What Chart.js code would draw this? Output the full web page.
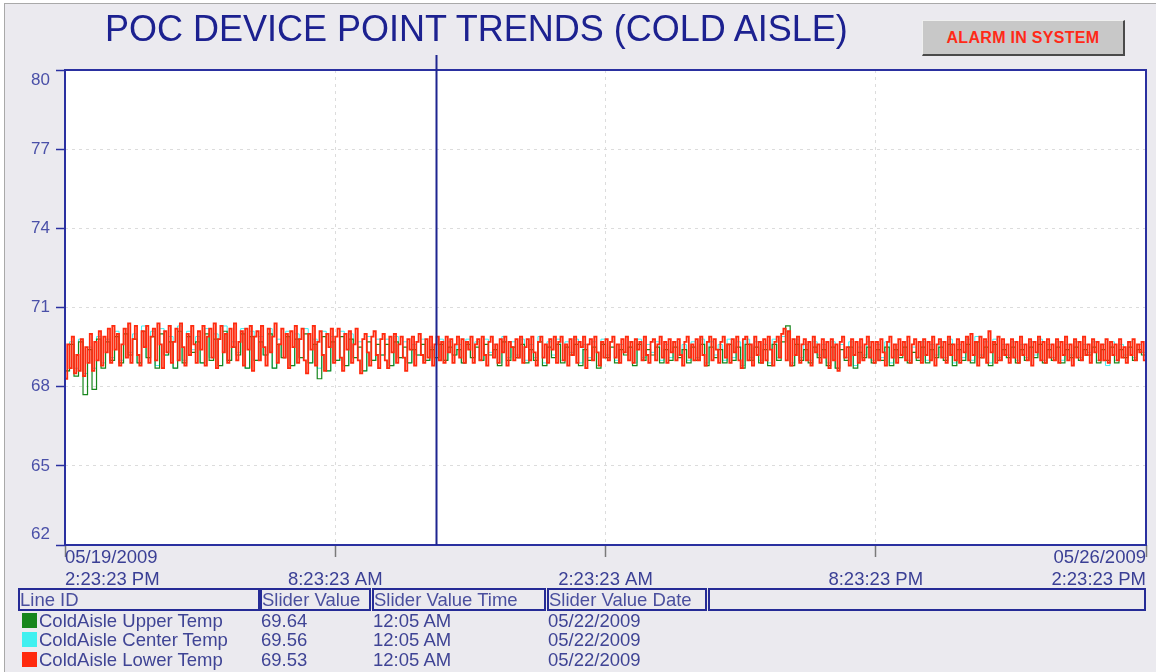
<!DOCTYPE html>
<html>
<head>
<meta charset="utf-8">
<script src="https://cdn.jsdelivr.net/npm/chart.js@4/dist/chart.umd.min.js"></script>
<style>
  html, body { margin: 0; padding: 0; background: #ffffff; }
  body { width: 1156px; height: 672px; position: relative; overflow: hidden; font-family: "Liberation Sans", Arial, sans-serif; }
  #frame { position: absolute; left: 4px; top: 3px; width: 1160px; height: 680px; background: #ebeaef; border: 1px solid #a9a9a9; box-sizing: border-box; }
  #chartbox { position: absolute; left: 0; top: 0; width: 1156px; height: 672px; }
  #title { position: absolute; left: 105px; top: 11px; font-size: 36px; line-height: 36px; color: #1c2190; white-space: nowrap; }
  #alarm { position: absolute; left: 922px; top: 20px; width: 203px; height: 36px; box-sizing: border-box; background: #c8c8c8;
           border-top: 1px solid #efefef; border-left: 1px solid #efefef; border-right: 2px solid #4a4a4a; border-bottom: 2px solid #4a4a4a;
           color: #ff2a18; font-weight: bold; font-size: 16px; line-height: 33px; text-align: center; letter-spacing: 0.3px; }
  .cell { position: absolute; top: 588px; height: 23px; box-sizing: border-box; border: 2px solid #252b96; font-size: 18.5px; line-height: 19px; color: #4a4f9e; padding-left: 0px; white-space: nowrap; overflow: hidden; }
  .txt { position: absolute; font-size: 18.5px; line-height: 19px; color: #3f4495; white-space: nowrap; }
  .sw { position: absolute; width: 15px; height: 15px; }
</style>
</head>
<body>
<div id="frame"></div>
<div id="chartbox"><canvas id="c" width="1156" height="672"></canvas></div>
<div id="title">POC DEVICE POINT TRENDS (COLD AISLE)</div>
<div id="alarm">ALARM IN SYSTEM</div>
<div id="table"></div>
<script>
// ---- Data ----
const seriesNames = ["ColdAisle Upper Temp", "ColdAisle Center Temp", "ColdAisle Lower Temp"];
const seriesColors = ["#17861c", "#3ff0f0", "#ff2a0e"];
const sliderValues = ["69.64", "69.56", "69.53"];
const sliderTimes = ["12:05 AM", "12:05 AM", "12:05 AM"];
const sliderDates = ["05/22/2009", "05/22/2009", "05/22/2009"];
const tableHeaders = ["Line ID", "Slider Value", "Slider Value Time", "Slider Value Date", ""];

const yTicks = [62, 65, 68, 71, 74, 77, 80];
const xTickHours = [0, 42, 84, 126, 168];
const xTickLabels = [["05/19/2009", "2:23:23 PM"], ["", "8:23:23 AM"], ["", "2:23:23 AM"], ["", "8:23:23 PM"], ["05/26/2009", "2:23:23 PM"]];
const sliderHour = 57.7;          // 05/22/2009 12:05 AM, hours after 05/19/2009 2:23:23 PM
const upperStepHours = 0.7;       // spacing of the read samples (upper / center)
const lowerStepHours = 0.35;      // spacing of the read samples (lower)

const upperTemp = [
 68.6,69.6,68.4,69.7,67.7,69.4,67.9,69.8,68.7,69.7,
 69.0,69.9,68.9,70.0,69.2,69.8,68.9,70.1,69.1,69.9,
 68.7,70.0,69.2,69.7,68.7,70.1,68.9,69.9,69.3,69.7,
 68.9,70.0,69.0,69.8,68.8,70.1,69.0,69.5,69.2,70.0,
 68.7,69.9,69.0,69.7,69.2,70.0,68.7,69.6,69.1,69.9,
 68.8,69.8,69.1,70.0,68.9,69.6,68.3,69.9,68.6,69.7,
 69.0,69.9,68.8,69.8,69.1,69.5,68.6,69.7,69.0,69.6,
 69.2,69.6,68.8,69.7,69.1,69.5,68.9,69.4,69.2,69.6,
 69.0,69.4,69.1,69.6,69.0,69.5,69.2,69.4,68.9,69.6,
 69.1,69.5,69.0,69.6,69.2,69.4,68.8,69.7,69.0,69.5,
 69.1,69.6,68.9,69.4,69.0,69.7,68.8,69.5,69.1,69.6,
 68.9,69.5,69.2,69.6,68.8,69.4,69.0,69.5,68.7,69.6,
 69.1,69.5,68.9,69.4,69.2,69.5,68.8,69.6,69.0,69.4,
 69.2,69.5,68.9,69.4,69.0,69.5,69.1,69.4,68.9,69.5,
 69.0,69.6,68.8,69.5,69.1,69.4,68.9,69.6,69.0,69.5,
 68.7,69.6,69.0,69.5,68.9,69.4,68.8,69.6,69.0,69.7,
 70.3,68.8,69.6,69.0,69.4,68.9,69.5,69.1,69.4,68.8,
 69.5,68.7,69.4,69.0,69.5,68.7,69.3,69.1,69.5,68.9,
 69.4,69.0,69.5,68.8,69.4,69.1,69.5,68.9,69.3,69.0,
 69.5,68.9,69.4,69.1,69.5,69.0,69.6,68.8,69.4,69.0,
 69.6,68.9,69.7,69.1,69.5,68.8,69.6,69.0,69.4,69.1,
 69.5,68.9,69.4,69.0,69.5,69.1,69.6,68.9,69.4,69.0,
 69.5,68.9,69.4,69.1,69.5,69.0,69.4,69.2,69.5,68.9,
 69.4,69.0,69.5,68.9,69.4,69.1,69.5,69.0,69.4,69.2,
 69.3
];
const centerTemp = [
 68.6,69.7,68.7,69.8,68.5,69.5,68.7,69.9,68.9,69.8,
 69.1,70.1,69.0,70.2,69.3,70.0,68.9,70.3,69.1,70.1,
 68.8,70.2,69.2,69.9,68.7,70.3,69.0,70.1,69.4,69.9,
 68.9,70.2,69.1,70.0,68.8,70.3,69.0,69.7,69.3,70.2,
 68.7,70.1,69.0,69.9,69.2,70.2,68.7,69.8,69.1,70.1,
 68.8,70.0,69.1,70.2,68.9,69.8,68.7,70.1,68.6,69.9,
 69.0,70.1,68.8,70.0,69.1,69.7,68.6,69.9,69.0,69.8,
 69.2,69.8,68.8,69.9,69.1,69.7,68.9,69.6,69.2,69.8,
 69.0,69.5,69.1,69.8,69.0,69.7,69.2,69.6,68.9,69.8,
 69.1,69.7,69.0,69.8,69.3,69.6,68.9,69.9,69.1,69.7,
 69.2,69.8,69.0,69.6,69.1,69.9,68.9,69.7,69.2,69.8,
 69.0,69.7,69.3,69.8,68.9,69.6,69.1,69.7,68.8,69.8,
 69.2,69.7,69.0,69.6,69.3,69.7,68.9,69.8,69.1,69.6,
 69.3,69.7,69.0,69.6,69.1,69.7,69.2,69.6,69.0,69.7,
 69.1,69.8,68.9,69.7,69.2,69.6,69.0,69.8,69.1,69.7,
 68.8,69.8,69.1,69.7,69.0,69.6,68.9,69.8,69.1,69.9,
 70.1,68.9,69.8,69.1,69.6,69.0,69.7,69.2,69.6,68.9,
 69.7,68.7,69.6,69.1,69.7,68.8,69.5,69.2,69.7,69.0,
 69.6,69.1,69.7,68.9,69.6,69.2,69.7,69.0,69.5,69.1,
 69.7,69.0,69.6,69.2,69.7,69.1,69.8,68.9,69.6,69.1,
 69.8,69.0,69.9,69.2,69.7,68.9,69.8,69.1,69.6,69.2,
 69.7,69.0,69.6,69.1,69.7,69.2,69.8,69.0,69.6,69.1,
 69.7,69.0,69.6,69.2,69.7,69.1,69.6,69.3,69.7,69.0,
 69.6,68.8,69.7,69.0,69.6,69.2,69.7,69.1,69.6,69.3,
 69.5
];
const lowerTemp = [
 68.3,69.6,68.7,69.9,68.5,69.2,68.6,69.8,68.4,69.5,68.9,70.0,68.6,69.7,69.0,70.1,68.8,69.9,69.3,70.2,
 68.9,70.3,69.4,70.0,68.8,69.6,70.2,69.1,70.4,68.9,69.8,70.3,69.2,68.8,70.1,69.5,70.3,68.9,69.9,70.2,
 69.0,70.4,69.6,68.7,70.1,69.3,70.3,68.9,69.7,70.2,69.0,70.4,69.5,68.8,70.0,69.2,70.3,69.6,68.9,70.1,
 69.4,70.3,68.8,69.9,70.2,69.1,70.4,68.7,69.8,70.3,69.3,70.0,68.9,70.2,69.5,70.4,69.0,69.7,70.1,68.8,
 70.2,69.4,70.3,68.6,69.9,70.1,69.0,70.3,69.5,68.8,70.2,69.3,69.9,70.4,68.9,69.6,70.2,69.1,70.0,68.7,
 70.1,69.5,70.3,68.9,69.8,70.2,69.0,68.5,70.0,69.4,70.3,68.8,69.7,70.1,69.2,68.6,70.0,69.5,70.2,68.9,
 69.9,70.2,69.1,68.6,70.0,69.4,70.1,68.9,69.6,70.2,69.0,68.5,69.8,70.0,69.3,68.8,69.9,70.1,69.2,68.7,
 69.8,70.0,69.0,68.7,69.9,69.3,70.0,68.9,69.6,69.9,69.1,68.6,69.8,69.4,69.9,68.8,69.7,70.0,69.2,68.9,
 69.8,69.1,69.9,68.8,69.6,69.9,69.0,69.7,68.9,69.9,69.3,69.8,68.9,69.6,69.9,69.1,69.8,68.9,69.7,69.4,
 69.9,68.9,69.6,69.8,69.0,69.9,69.2,68.8,69.7,69.9,69.1,69.6,68.9,69.8,69.3,69.9,68.8,69.7,69.5,69.0,
 69.8,69.1,69.9,68.9,69.5,69.8,69.0,69.9,69.3,68.8,69.7,69.9,69.1,69.6,68.9,69.8,69.4,69.9,68.9,69.7,
 69.9,69.0,69.6,68.8,69.8,69.2,69.9,68.9,69.7,69.5,69.9,68.7,69.6,69.8,69.0,69.9,69.3,68.8,69.7,69.1,
 69.8,69.0,69.7,69.9,69.1,69.6,68.9,69.8,69.3,69.9,69.0,69.7,68.9,69.8,69.4,69.7,69.0,69.9,69.2,68.9,
 69.7,69.8,69.0,69.6,69.9,69.1,69.7,68.9,69.8,69.3,69.7,69.0,69.8,69.2,68.8,69.7,69.9,69.1,69.6,69.0,
 69.8,69.0,69.9,69.2,68.8,69.7,69.9,69.0,69.8,69.4,68.9,69.7,69.9,69.1,69.6,68.9,69.8,69.3,69.9,69.0,
 68.7,69.8,69.9,69.0,69.6,68.8,69.9,69.2,69.7,68.9,69.8,69.0,69.9,69.4,68.8,69.7,69.9,69.1,70.0,70.2,
 69.0,70.1,68.8,69.8,69.2,69.9,68.9,69.6,69.8,69.0,69.7,68.8,69.9,69.3,69.6,68.9,69.8,69.1,69.7,68.7,
 69.8,69.0,69.6,68.6,69.7,69.9,69.1,69.5,68.8,69.8,69.2,69.7,68.9,69.8,69.0,69.6,69.9,69.1,69.7,68.9,
 69.7,69.0,69.8,69.3,68.8,69.7,69.9,69.1,69.6,68.9,69.8,69.2,69.7,69.0,69.9,68.9,69.6,69.8,69.1,69.7,
 68.9,69.8,69.2,69.7,69.0,69.9,68.8,69.6,69.8,69.1,69.7,68.9,69.9,69.2,69.6,69.0,69.8,68.9,69.7,69.3,
 69.9,69.0,70.0,69.2,69.7,68.8,69.9,69.1,69.8,68.9,70.1,69.3,69.7,68.9,69.9,69.0,69.8,69.2,69.6,68.9,
 69.8,69.1,69.7,68.9,69.9,69.2,69.6,69.0,69.8,68.8,69.7,69.3,69.9,69.0,69.7,68.9,69.8,69.1,69.6,69.0,
 69.8,68.9,69.7,69.2,69.9,69.0,69.6,68.8,69.8,69.1,69.7,69.0,69.9,69.2,69.6,68.9,69.8,69.3,69.7,69.0,
 69.6,69.0,69.8,68.9,69.7,69.2,69.6,69.0,69.8,69.1,69.5,68.9,69.7,69.2,69.8,69.0,69.6,69.3,69.7,69.0,
 69.4
];

// ---- Legend table (HTML text) ----
(function buildTable() {
  const t = document.getElementById('table');
  const cells = [[18, 242], [260, 111], [372, 174], [547, 160], [708, 438]];
  cells.forEach((c, i) => {
    const d = document.createElement('div');
    d.className = 'cell';
    d.style.left = c[0] + 'px';
    d.style.width = c[1] + 'px';
    d.textContent = tableHeaders[i];
    t.appendChild(d);
  });
  const rowTops = [611, 630, 650];
  [0, 1, 2].forEach((s, r) => {
    const top = rowTops[r];
    const sw = document.createElement('div');
    sw.className = 'sw';
    sw.style.left = '22px'; sw.style.top = (top + 2) + 'px';
    sw.style.background = seriesColors[s];
    t.appendChild(sw);
    const cols = [[39, seriesNames[s]], [261, sliderValues[s]], [373, sliderTimes[s]], [548, sliderDates[s]]];
    cols.forEach(cc => {
      const d = document.createElement('div');
      d.className = 'txt';
      d.style.left = cc[0] + 'px';
      d.style.top = top + 'px';
      d.textContent = cc[1];
      t.appendChild(d);
    });
  });
})();

// ---- Chart ----
const mk = (arr, step) => arr.map((v, i) => ({ x: i * step, y: v }));

const frameBg = {
  id: 'frameBg',
  beforeDraw(chart) {
    const { ctx, chartArea: a } = chart;
    ctx.save();
    ctx.fillStyle = '#ffffff';
    ctx.fillRect(a.left, a.top, a.right - a.left, a.bottom - a.top);
    ctx.restore();
  },
  afterDatasetsDraw(chart) {
    const { ctx, chartArea: a } = chart;
    ctx.save();
    ctx.strokeStyle = '#2a30a0';
    ctx.lineWidth = 2;
    ctx.strokeRect(a.left, a.top, a.right - a.left, a.bottom - a.top);
    const x = Math.round(chart.scales.x.getPixelForValue(sliderHour)) + 0.5;
    ctx.strokeStyle = '#1e2590';
    ctx.lineWidth = 2;
    ctx.beginPath();
    ctx.moveTo(x, a.top - 15);
    ctx.lineTo(x, a.bottom);
    ctx.stroke();
    ctx.restore();
  }
};

const lineDs = (label, arr, step, color, order, width) => ({
  label, data: mk(arr, step), borderColor: color, backgroundColor: color,
  borderWidth: width, pointRadius: 0, stepped: true, tension: 0, order
});

const fontFamily = '"Liberation Sans", Arial, sans-serif';

new Chart(document.getElementById('c'), {
  type: 'line',
  data: {
    datasets: [
      lineDs(seriesNames[2], lowerTemp, lowerStepHours, '#ff2a0e', 0, 1.8),
      lineDs(seriesNames[0], upperTemp, upperStepHours, '#17861c', 1, 1.2),
      lineDs(seriesNames[1], centerTemp, upperStepHours, '#3ff0f0', 2, 1)
    ]
  },
  options: {
    responsive: false,
    animation: false,
    events: [],
    layout: { padding: { top: 70, right: 10, bottom: 87, left: 0 } },
    plugins: { legend: { display: false }, tooltip: { enabled: false }, title: { display: false } },
    scales: {
      x: {
        type: 'linear', min: 0, max: 168,
        afterBuildTicks: s => { s.ticks = xTickHours.map(v => ({ value: v })); },
        afterFit: s => { s.height = 40; },
        border: { display: false, dash: [3, 4] },
        grid: { color: '#dcdcdc', lineWidth: 1, drawTicks: true, tickLength: 12, tickColor: '#7a7a7a', tickWidth: 1.5 },
        ticks: {
          align: 'inner', padding: -10, maxRotation: 0, autoSkip: false,
          color: '#3a3f95', font: { family: fontFamily, size: 18.5 },
          callback: (v) => { const i = xTickHours.indexOf(v); return i >= 0 ? xTickLabels[i] : ''; }
        }
      },
      y: {
        type: 'linear', min: 62, max: 80,
        afterBuildTicks: s => { s.ticks = yTicks.map(v => ({ value: v })); },
        afterFit: s => { s.width = 65; },
        border: { display: false, dash: [3, 4] },
        grid: { color: '#dcdcdc', lineWidth: 1, drawTicks: true, tickLength: 9, tickColor: '#2a30a0', tickWidth: 1.5 },
        ticks: {
          padding: 6, color: '#4a50a8', font: { family: fontFamily, size: 17 },
          callback: (v) => v === 80 ? ['', '80'] : (v === 62 ? ['62', ''] : String(v))
        }
      }
    }
  },
  plugins: [frameBg]
});
</script>
</body>
</html>
